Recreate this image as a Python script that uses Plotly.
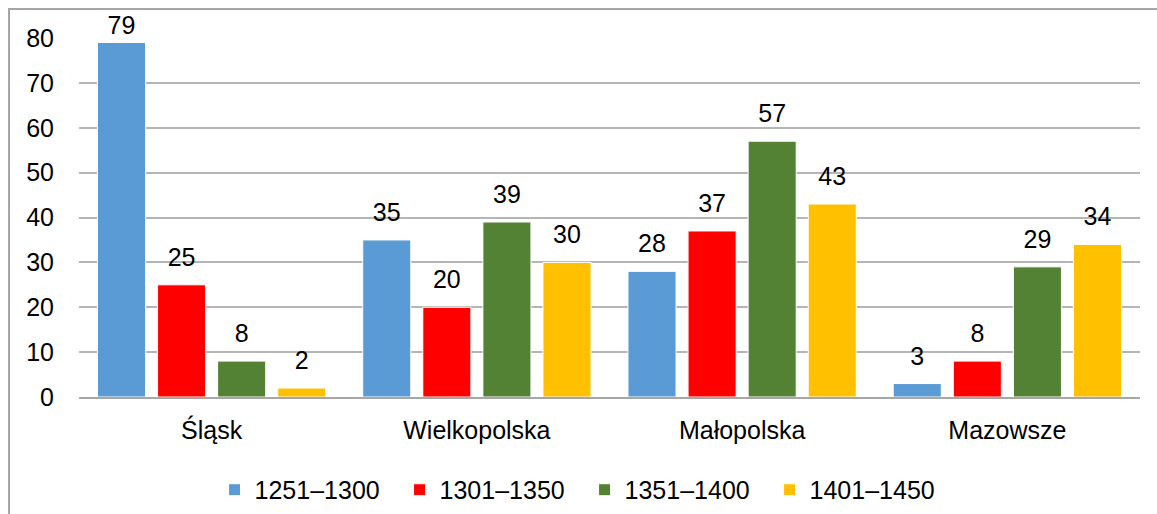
import plotly.graph_objects as go

categories = ["Śląsk", "Wielkopolska", "Małopolska", "Mazowsze"]
series_names = ["1251–1300", "1301–1350", "1351–1400", "1401–1450"]
s1 = [79, 35, 28, 3]
s2 = [25, 20, 37, 8]
s3 = [8, 39, 57, 29]
s4 = [2, 30, 43, 34]
colors = ["#5B9BD5", "#FF0000", "#548235", "#FFC000"]

FONT = "Liberation Sans, Arial, sans-serif"
FS = 25
LABEL_GAP = 2.45   # extra lift of value labels (axis units), as in the source chart
TOP_LIMIT = 75     # labels of taller bars are kept tight to the bar

fig = go.Figure()
for i, (name, vals, col) in enumerate(zip(series_names, [s1, s2, s3, s4], colors)):
    g = f"g{i}"
    fig.add_trace(go.Bar(
        x=categories, y=vals, name=name, offsetgroup=g,
        marker=dict(color=col, line=dict(color="white", width=1)),
        text=[str(v) if v > TOP_LIMIT else "" for v in vals], textposition="outside",
        textfont=dict(size=FS, color="black", family=FONT),
        cliponaxis=False, hoverinfo="x+y",
    ))
    # invisible spacer bars carrying the lifted value labels
    fig.add_trace(go.Bar(
        x=categories, y=[0 if v > TOP_LIMIT else LABEL_GAP for v in vals], base=vals,
        offsetgroup=g, showlegend=False, hoverinfo="skip",
        marker=dict(color="rgba(0,0,0,0)", line=dict(width=0)),
        text=["" if v > TOP_LIMIT else str(v) for v in vals], textposition="outside",
        textfont=dict(size=FS, color="black", family=FONT),
        cliponaxis=False,
    ))

fig.update_layout(
    width=1157, height=514,
    margin=dict(l=79, r=17, t=38, b=117, autoexpand=False),
    paper_bgcolor="white", plot_bgcolor="white",
    barmode="group", bargap=0.094, bargroupgap=0.2,
    font=dict(family=FONT, size=FS, color="black"),
    showlegend=True,
    legend=dict(orientation="h", x=0.4765, xanchor="center", y=-0.259, yanchor="middle",
                font=dict(size=FS, family=FONT), itemwidth=30, traceorder="normal",
                entrywidth=140, entrywidthmode="pixels"),
    yaxis=dict(range=[0, 80], dtick=10, showgrid=True, gridcolor="#B5B5B5", gridwidth=1.5,
               zeroline=False, ticks="", ticklabelstandoff=24, automargin=False,
               tickfont=dict(size=FS, family=FONT)),
    xaxis=dict(showline=True, linecolor="#A6A6A6", linewidth=1.5, ticks="", automargin=False,
               ticklabelstandoff=10, tickfont=dict(size=FS, family=FONT)),
    shapes=[dict(type="rect", xref="paper", yref="paper",
                 x0=(9 - 79) / 1061, x1=(1170 - 79) / 1061,
                 y0=(397 - 530) / 359, y1=(397 - 9) / 359,
                 line=dict(color="#A6A6A6", width=2), fillcolor="rgba(0,0,0,0)", layer="below")],
)

fig.write_html("out.html", config={"displayModeBar": False},
               post_script="document.body.style.margin='0';document.body.style.overflow='hidden';")
